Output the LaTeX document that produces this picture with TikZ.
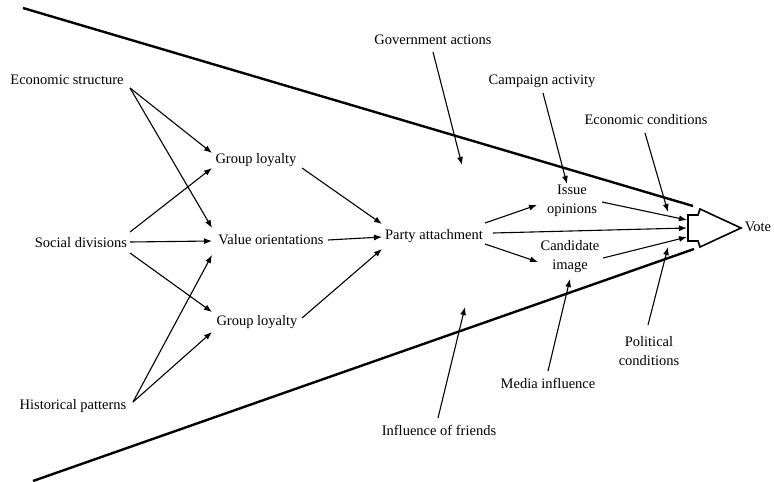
\documentclass[tikz,border=0pt]{standalone}
\usepackage{fontspec}
\setmainfont{Liberation Serif}
\usetikzlibrary{arrows.meta,calc}
\begin{document}
\begin{tikzpicture}[x=1pt,y=-1pt,
  lbl/.style={inner sep=0pt,font=\fontsize{14.5}{19}\selectfont,align=center},
  arr/.style={line width=1.1pt,-{Latex[length=8pt,width=6pt]}},
  cone/.style={line width=2.4pt}]
\useasboundingbox (0,0) rectangle (774,482);
% labels
\node[lbl] (es) at (67,80) {Economic structure};
\node[lbl] (sd) at (81,243) {Social divisions};
\node[lbl] (hp) at (73,406) {Historical patterns};
\node[lbl] (gl1) at (256,160) {Group loyalty};
\node[lbl] (vo) at (271,240) {Value orientations};
\node[lbl] (gl2) at (257,322) {Group loyalty};
\node[lbl] (pa) at (434,236) {Party attachment};
\node[lbl] (io) at (572,201) {Issue\\opinions};
\node[lbl] (ci) at (570,257) {Candidate\\image};
\node[lbl] (vote) at (758,227) {Vote};
\node[lbl] (ga) at (433,40) {Government actions};
\node[lbl] (ca) at (542,81) {Campaign activity};
\node[lbl] (ec) at (646,120) {Economic conditions};
\node[lbl] (pc) at (649,351) {Political\\conditions};
\node[lbl] (mi) at (548,383) {Media influence};
\node[lbl] (fr) at (439,430) {Influence of friends};
% cone and vote arrow
\coordinate (box) at (688,228);
\coordinate (ctop) at (23,8);
\coordinate (ctopend) at (693,206);
\coordinate (cbot) at (33,481);
\coordinate (cbotend) at (694,249);
\draw[cone] (ctop) -- (ctopend);
\draw[cone] (cbot) -- (cbotend);
\draw[line width=1.6pt,line join=miter]
  ($(box)+(0,-13)$) -- ($(box)+(10,-13)$) -- ($(box)+(12,-19)$) -- ($(box)+(53,0)$)
  -- ($(box)+(12,19)$) -- ($(box)+(10,13)$) -- ($(box)+(0,13)$) -- cycle;
\coordinate (gatgt) at (462,165);
\coordinate (ectgt) at (668,212);
\coordinate (pctgt) at (668,247);
\coordinate (frtgt) at (465,307);
% left arrows
\draw[arr] ($(es)+(63,8)$) -- ($(gl1)+(-44,-7)$);
\draw[arr] ($(es)+(63,8)$) -- ($(vo)+(-59,-12)$);
\draw[arr] ($(sd)+(49,-11)$) -- ($(gl1)+(-44,8)$);
\draw[arr] ($(sd)+(49,-1)$) -- ($(vo)+(-59,1)$);
\draw[arr] ($(sd)+(49,10)$) -- ($(gl2)+(-45,-10)$);
\draw[arr] ($(hp)+(60,-4)$) -- ($(vo)+(-59,15)$);
\draw[arr] ($(hp)+(60,-4)$) -- ($(gl2)+(-45,10)$);
\draw[arr] ($(gl1)+(46,8)$) -- ($(pa)+(-52,-12)$);
\draw[arr] ($(vo)+(57,0)$) -- ($(pa)+(-52,1)$);
\draw[arr] ($(gl2)+(45,-4)$) -- ($(pa)+(-52,13)$);
\draw[arr] ($(pa)+(51,-13)$) -- ($(io)+(-35,4)$);
\draw[arr] ($(pa)+(59,-3)$) -- ($(box)+(-1,0)$);
\draw[arr] ($(pa)+(51,8)$) -- ($(ci)+(-32,5)$);
\draw[arr] ($(io)+(30,1)$) -- ($(box)+(-1,-8)$);
\draw[arr] ($(ci)+(33,1)$) -- ($(box)+(-1,9)$);
% external influences
\draw[arr] ($(ga)+(0,12)$) -- (gatgt);
\draw[arr] ($(ca)+(1,12)$) -- ($(io)+(-5,-17)$);
\draw[arr] ($(ec)+(-1,13)$) -- (ectgt);
\draw[arr] ($(pc)+(-1,-26)$) -- (pctgt);
\draw[arr] ($(mi)+(0,-12)$) -- ($(ci)+(0,22)$);
\draw[arr] ($(fr)+(-1,-12)$) -- (frtgt);
\end{tikzpicture}
\end{document}
